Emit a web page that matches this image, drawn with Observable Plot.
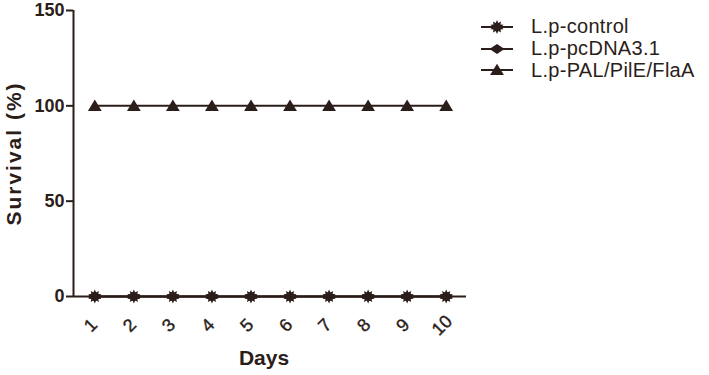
<!DOCTYPE html>
<html><head><meta charset="utf-8">
<script src="https://cdn.jsdelivr.net/npm/d3@7"></script>
<script src="https://cdn.jsdelivr.net/npm/@observablehq/plot@0.6"></script>
<style>
body{margin:0;background:#fff;font-family:"Liberation Sans",Arial,Helvetica,sans-serif}
#wrap{position:relative;width:709px;height:375px}
#legend{position:absolute;left:480px;top:16px;color:#2b1d19;font-size:20px;letter-spacing:0.3px}
#legend div{display:flex;align-items:center;height:21.7px}
#legend svg{margin-right:17px}
</style></head><body>
<div id="wrap"><div id="chart"></div><div id="legend"></div></div>
<script>
const days = [1, 2, 3, 4, 5, 6, 7, 8, 9, 10];
const seriesNames = ["L.p-control", "L.p-pcDNA3.1", "L.p-PAL/PilE/FlaA"];
const controlValues = [0, 0, 0, 0, 0, 0, 0, 0, 0, 0];
const pcdnaValues = [0, 0, 0, 0, 0, 0, 0, 0, 0, 0];
const palValues = [100, 100, 100, 100, 100, 100, 100, 100, 100, 100];
const yTicks = [0, 50, 100, 150];

const ink = "#2b1d19";

// custom symbols
const burst = {draw(ctx, size) {
  const R = Math.sqrt(size / Math.PI) * 1.15, r = R * 0.62, n = 10;
  for (let i = 0; i < 2 * n; i++) {
    const a = (i * Math.PI) / n - Math.PI / 2, rr = i % 2 ? r : R;
    const x = rr * Math.cos(a), y = rr * Math.sin(a);
    if (i === 0) ctx.moveTo(x, y); else ctx.lineTo(x, y);
  }
  ctx.closePath();
}};
const diamond = {draw(ctx, size) {
  const R = Math.sqrt(size / Math.PI);
  ctx.moveTo(0, -R * 0.85); ctx.lineTo(R * 1.25, 0); ctx.lineTo(0, R * 0.85); ctx.lineTo(-R * 1.25, 0); ctx.closePath();
}};
const triangle = {draw(ctx, size) {
  const R = Math.sqrt(size / Math.PI);
  ctx.moveTo(0, -R * 1.05); ctx.lineTo(R * 1.15, R * 0.85); ctx.lineTo(-R * 1.15, R * 0.85); ctx.closePath();
}};
const symbols = [burst, diamond, triangle];
const valueLists = [controlValues, pcdnaValues, palValues];

const rows = [];
seriesNames.forEach((s, k) => days.forEach((d, i) => rows.push({series: s, day: d, value: valueLists[k][i]})));
const byS = s => rows.filter(r => r.series === s);

const xDomain = [0.454, 10.52];

const marks = [];
// draw PAL, then pcDNA, then control on top
[2, 1, 0].forEach(k => {
  const data = byS(seriesNames[k]);
  marks.push(Plot.line(data, {x: "day", y: "value", stroke: ink, strokeWidth: 2}));
  marks.push(Plot.dot(data, {x: "day", y: "value", symbol: () => symbols[k], r: 6, fill: ink, stroke: "none"}));
});

const chart = Plot.plot({
  width: 709, height: 375,
  marginLeft: 73, marginRight: 243, marginTop: 10, marginBottom: 79,
  style: {fontFamily: "'Liberation Sans', Arial, sans-serif", color: ink, background: "white"},
  x: {domain: xDomain, axis: null},
  y: {domain: [0, 150], axis: null},
  symbol: {type: "identity"},
  marks: [
    Plot.ruleY([0], {stroke: ink, strokeWidth: 2}),
    Plot.ruleX([xDomain[0]], {stroke: ink, strokeWidth: 2}),
    Plot.axisY({ticks: yTicks, tickSize: 7, tickPadding: 2, tickFormat: d => d, fontSize: 18, fontWeight: "bold", stroke: ink, strokeWidth: 2, fill: ink, label: null}),
    Plot.text(days, {x: d => d, frameAnchor: "bottom", dy: 33, rotate: -45, text: d => String(d), fontSize: 18, fill: ink, stroke: ink, strokeWidth: 0.4}),
    Plot.text(["Survival (%)"], {frameAnchor: "left", textAnchor: "middle", rotate: -90, dx: -59, fontSize: 21, fontWeight: "bold", fill: ink, className: "ylab"}),
    Plot.text(["Days"], {frameAnchor: "bottom", textAnchor: "middle", dy: 68, dx: -6, fontSize: 21, fontWeight: "bold", fill: ink}),
    ...marks
  ]
});
d3.select(chart).selectAll(".ylab text").style("letter-spacing", "2px");
document.getElementById("chart").appendChild(chart);

// legend
const leg = document.getElementById("legend");
seriesNames.forEach((s, k) => {
  const row = document.createElement("div");
  const svg = d3.create("svg").attr("width", 34).attr("height", 16);
  svg.append("line").attr("x1", 1).attr("x2", 33).attr("y1", 8).attr("y2", 8).attr("stroke", ink).attr("stroke-width", 2);
  svg.append("path").attr("transform", "translate(17,8)").attr("fill", ink)
    .attr("d", d3.symbol(symbols[k], Math.PI * 36)());
  row.appendChild(svg.node());
  const t = document.createElement("span"); t.textContent = s; row.appendChild(t);
  leg.appendChild(row);
});
</script>
</body></html>
